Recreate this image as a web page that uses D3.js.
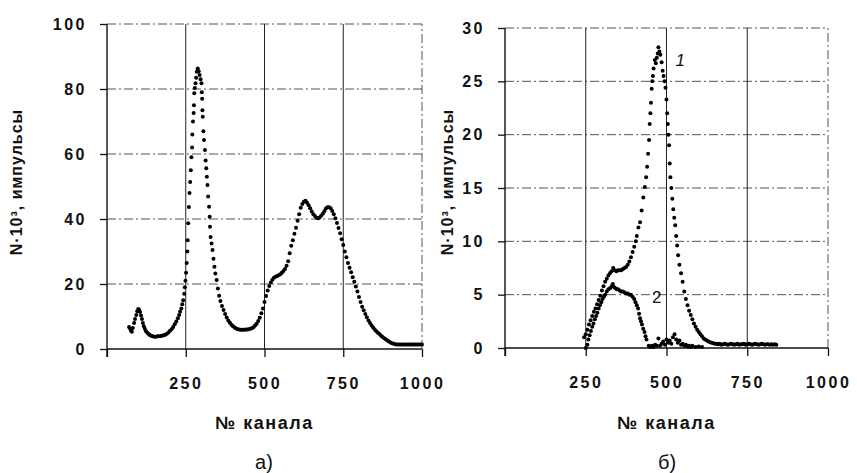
<!DOCTYPE html>
<html><head><meta charset="utf-8">
<script src="https://cdn.jsdelivr.net/npm/d3@7"></script>
<style>
body{margin:0;background:#fff;}
svg text{font-family:"Liberation Sans",Arial,sans-serif;fill:#111;}
</style></head>
<body><svg id="c" width="857" height="473"></svg>
<script>
// ---- data ----
const xTicks = [0, 250, 500, 750, 1000];
const yTicksA = [0, 20, 40, 60, 80, 100];
const yTicksB = [0, 5, 10, 15, 20, 25, 30];
const xTitle = "№ канала";
const yTitle = "N·10³, импульсы";
const panelLabels = ["а)", "б)"];
const seriesLabels = ["1", "2"];

// panel a) : [channel, N·10^3]
const spectrumA = [
[70,6.8],[73,6.3],[76,5.6],[79,5.3],[82,6.5],[86,8],[89,9.2],[93,10.5],[96,11.6],[99,12.3],
[102,12.1],[105,11.4],[108,10.3],[111,9.2],[114,8],[117,7],[120,6.2],[124,5.5],[128,5],[132,4.6],
[136,4.3],[140,4.1],[145,3.9],[150,3.8],[155,3.8],[160,3.9],[165,3.9],[170,4.0],[175,4.1],[180,4.2],
[185,4.4],[190,4.7],[195,5.1],[200,5.6],[205,6.1],[210,6.8],[215,7.6],[220,8.5],[225,9.5],[229,10.5],
[232,11.5],[236,12.5],[239,13.8],[242,15],[245,17],[247,19],[249,21],[251,23.5],[253,26.5],[255,30],
[256,33.5],[258,38.7],[260,43.7],[262,48],[264,51.4],[266,55],[268,59],[270,62],[271,66],[273,70],
[275,72.6],[276,75],[277,78.7],[279,80.3],[281,81.8],[283,83.5],[285,85.3],[288,86.3],[291,85.5],[294,84.3],
[297,83],[300,81.8],[301,79],[302,77],[303,73.5],[304,71.5],[306,67],[308,64.3],[311,61.2],[313,58],
[315,55.6],[317,53],[319,50.5],[321,46.9],[324,43.8],[326,40.7],[327,37.6],[329,34.5],[332,32.5],[335,30.5],
[338,27.8],[341,25.3],[344,23.2],[348,21.2],[352,18.6],[356,16.4],[360,14.8],[365,13.2],[370,12],[375,10.8],
[380,9.7],[385,8.8],[390,8.1],[395,7.5],[400,7.0],[405,6.6],[410,6.3],[415,6.1],[420,6.0],[425,5.9],
[430,5.9],[435,5.9],[440,6.0],[445,6.0],[450,6.1],[455,6.2],[460,6.4],[465,6.7],[470,7.2],[475,7.8],
[480,8.6],[485,9.6],[490,11],[495,12.5],[500,14.5],[505,16.3],[510,18],[515,19.4],[520,20.5],[525,21.3],
[530,21.9],[535,22.2],[540,22.5],[545,22.7],[550,23],[555,23.5],[560,24],[565,24.6],[570,25.6],[575,27],
[580,29.5],[585,31.8],[590,33.5],[595,35.5],[600,37.3],[605,39.5],[610,41.5],[615,43.5],[620,44.6],[625,45.3],
[630,45.6],[635,45],[640,44.2],[645,43.3],[650,42.3],[655,41.5],[660,40.9],[665,40.4],[670,40.2],[675,40.5],
[680,41],[685,41.6],[690,42.4],[695,43.2],[700,43.6],[705,43.6],[710,43.3],[715,42.5],[720,41.5],[725,40.2],
[730,38.8],[735,37.2],[740,35.6],[745,33.8],[750,32],[755,30],[760,28.2],[765,26.5],[770,25],[775,23.6],
[780,22.1],[785,20.7],[790,19.2],[795,17.7],[800,16],[805,14.5],[810,13],[815,11.9],[820,10.8],[825,9.8],
[830,8.8],[835,8],[840,7.2],[845,6.6],[850,6],[855,5.5],[860,5],[865,4.6],[870,4.1],[875,3.7],
[880,3.3],[885,3],[890,2.6],[895,2.3],[900,2],[905,1.8],[910,1.6],[915,1.5],[920,1.4],[925,1.4],
[930,1.4],[935,1.4],[940,1.4],[945,1.4],[950,1.4],[955,1.4],[960,1.4],[965,1.4],[970,1.4],[975,1.4],
[980,1.4],[985,1.4],[990,1.4],[995,1.4],[1000,1.4]
];

// panel б) series 1
const spectrumB1 = [
[245,1.0],[250,1.3],[255,1.7],[260,2.2],[265,2.6],[270,3.0],[275,3.4],[280,3.7],[285,4.1],[290,4.5],
[295,4.9],[300,5.4],[305,5.8],[310,6.2],[315,6.5],[320,6.8],[325,7.0],[330,7.2],[335,7.5],[340,7.3],
[345,7.2],[350,7.3],[355,7.3],[360,7.3],[365,7.4],[370,7.5],[375,7.6],[380,7.8],[385,8.1],[390,8.5],
[395,9.0],[400,9.5],[405,10.0],[408,10.5],[413,11.3],[418,11.8],[423,12.9],[428,14.1],[433,15.1],[437,16.0],
[440,17.0],[443,18.2],[446,19.5],[448,21.0],[450,22.0],[452,23.0],[454,24.3],[456,25.0],[458,25.5],[460,26.2],
[464,27.0],[467,26.7],[470,27.2],[473,27.6],[475,28.2],[478,27.8],[481,27.5],[485,26.8],[488,26.0],[491,25.5],
[494,25.0],[497,24.4],[500,23.3],[502,22.0],[504,21.0],[506,20.0],[508,19.0],[510,17.3],[512,16.0],[515,15.0],
[518,14.0],[521,13.0],[524,12.2],[527,11.5],[530,10.5],[533,9.6],[536,8.7],[540,7.8],[545,7.0],[550,6.2],
[555,5.3],[560,4.6],[565,4.0],[570,3.5],[575,3.1],[580,2.7],[585,2.3],[590,2.0],[595,1.7],[600,1.5],
[605,1.3],[610,1.1],[615,0.9],[620,0.8],[625,0.7],[630,0.6],[635,0.55],[640,0.5],[645,0.45],[650,0.4],
[655,0.4],[660,0.35],[665,0.4],[670,0.3],[675,0.35],[680,0.4],[685,0.35],[690,0.3],[695,0.35],[700,0.4],
[705,0.35],[710,0.3],[715,0.35],[720,0.4],[725,0.3],[730,0.35],[735,0.35],[740,0.4],[745,0.3],[750,0.35],
[755,0.4],[760,0.35],[765,0.3],[770,0.35],[775,0.4],[780,0.35],[785,0.3],[790,0.35],[795,0.4],[800,0.35],
[805,0.3],[810,0.35],[815,0.35],[820,0.3],[825,0.35],[830,0.3],[835,0.35],[840,0.3]
];

// panel б) series 2
const spectrumB2 = [
[250,0.0],[255,0.3],[258,0.8],[262,1.2],[266,1.6],[270,2.0],[274,2.3],[278,2.7],[282,3.0],[286,3.3],
[290,3.7],[294,4.0],[298,4.3],[302,4.6],[306,4.8],[310,5.0],[315,5.3],[320,5.5],[325,5.6],[330,5.8],
[334,6.0],[338,5.7],[342,5.6],[346,5.5],[350,5.5],[355,5.4],[360,5.3],[365,5.3],[370,5.2],[375,5.1],
[380,5.1],[385,5.0],[390,5.0],[395,4.8],[400,4.6],[404,4.3],[408,4.0],[412,3.7],[415,3.2],[418,2.8],
[421,2.5],[424,2.2],[428,1.8],[432,1.5],[435,1.1],[438,0.8],
[445,0.2],[450,0.1],[455,0.2],[460,0.1],[465,0.3],[470,0.2],[475,0.9],[480,0.2],[485,0.4],[490,0.6],
[495,0.3],[500,0.8],[505,0.5],[510,0.7],[515,0.4],[520,1.0],[525,1.3],[530,0.8],[535,0.5],[540,0.7],
[545,0.3],[550,0.4],[555,0.2],[560,0.3],[565,0.15],[570,0.2],[575,0.1],[580,0.2],[590,0.1],[600,0.15],[610,0.1]
];

// ---- drawing ----
const svg = d3.select("#c");
const FONT = "Liberation Sans, Arial, sans-serif";

function panel(cfg){
  const {x, y, yTicks, series, yPad, titleX, labelX, label} = cfg;
  const g = svg.append("g");
  const x0 = x.range()[0], x1 = x.range()[1];
  const y0 = y.range()[0], y1 = y.range()[1];
  // horizontal grid
  g.append("g").selectAll("line").data(yTicks.slice(1)).join("line")
    .attr("x1", x0).attr("x2", x1).attr("y1", d=>y(d)).attr("y2", d=>y(d))
    .attr("stroke", "#555").attr("stroke-width", 1).attr("stroke-dasharray", "9,3,2,3");
  // vertical grid
  g.append("g").selectAll("line").data(xTicks.slice(1)).join("line")
    .attr("x1", d=>x(d)).attr("x2", d=>x(d)).attr("y1", y0).attr("y2", y1)
    .attr("stroke", d=> d===1000 ? "#555" : "#222").attr("stroke-width", 1)
    .attr("stroke-dasharray", d=> d===1000 ? "9,3,2,3" : null);
  // axes
  const ax = g.append("g").attr("transform", `translate(0,${y0})`)
    .call(d3.axisBottom(x).tickValues(xTicks).tickSize(8).tickPadding(21)
      .tickFormat(d=> d===0 ? "" : d));
  const ay = g.append("g").attr("transform", `translate(${x0},0)`)
    .call(d3.axisLeft(y).tickValues(yTicks).tickSize(7).tickPadding(yPad));
  [ax, ay].forEach(a=>{
    a.select(".domain").attr("stroke", "#111").attr("stroke-width", 1.4);
    a.selectAll(".tick line").attr("stroke", "#111").attr("stroke-width", 1.3);
    a.selectAll("text").attr("font-size", 16).attr("font-weight", "bold").attr("letter-spacing", "2.5px")
      .attr("font-family", FONT).attr("fill", "#1a1a1a");
  });
  ax.select(".domain").attr("d", `M${x0},0H${x1}`);
  ay.select(".domain").attr("d", `M0,${y0+8}V${y1}`);
  // dots
  series.forEach(s=>{
    g.append("g").selectAll("circle").data(s).join("circle")
      .attr("cx", d=>x(d[0])).attr("cy", d=>y(d[1])).attr("r", 2).attr("fill", "#000");
  });
  // titles
  svg.append("text").attr("transform", `translate(${titleX},182) rotate(-90)`)
    .attr("text-anchor", "middle").attr("dominant-baseline", "middle")
    .attr("font-size", 16).attr("font-weight", "bold").attr("letter-spacing", "1px")
    .attr("fill", "#1a1a1a").text(yTitle);
  svg.append("text").attr("x", (x0+x1)/2).attr("y", 429).attr("text-anchor", "middle")
    .attr("font-size", 18).attr("font-weight", "bold").attr("letter-spacing", "1.5px")
    .attr("fill", "#1a1a1a").text(xTitle);
  svg.append("text").attr("x", labelX).attr("y", 469).attr("text-anchor", "middle")
    .attr("font-size", 20).attr("fill", "#1a1a1a").text(label);
}

const xA = d3.scaleLinear().domain([0,1000]).range([107,422]);
const yA = d3.scaleLinear().domain([0,100]).range([349,24]);
const xB = d3.scaleLinear().domain([0,1000]).range([505,828]);
const yB = d3.scaleLinear().domain([0,30]).range([348,28]);

panel({x:xA, y:yA, yTicks:yTicksA, series:[spectrumA], yPad:13, titleX:18, labelX:264, label:panelLabels[0]});
panel({x:xB, y:yB, yTicks:yTicksB, series:[spectrumB1, spectrumB2], yPad:13, titleX:449, labelX:667, label:panelLabels[1]});

// series labels
svg.append("text").attr("x", xB(528)).attr("y", yB(26.4)).attr("font-size", 17)
  .attr("font-style", "italic").attr("fill", "#1a1a1a").text(seriesLabels[0]);
svg.append("text").attr("x", xB(455)).attr("y", yB(4.2)).attr("font-size", 17)
  .attr("fill", "#1a1a1a").text(seriesLabels[1]);
</script></body></html>
